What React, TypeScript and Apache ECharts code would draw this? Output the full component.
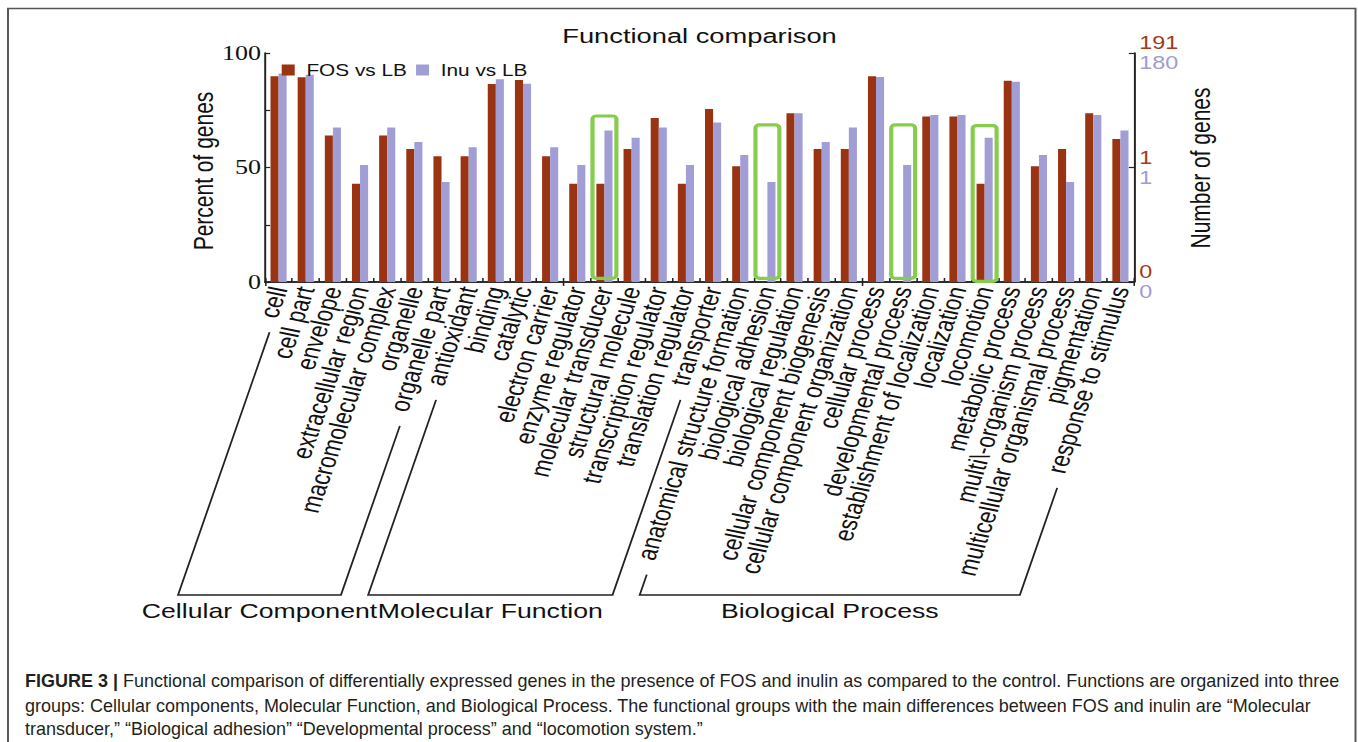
import React, { useEffect, useRef } from 'react';
import * as echarts from 'echarts';

// Horizontal stretch applied to the whole figure panel (chart drawn narrow, then widened)
const S = 1.3;
const FIG_W = 1358;
const FIG_H = 742;
const CHART_W = FIG_W / S;

const FONT = '"Liberation Sans", Arial, Helvetica, sans-serif';
const SERIF = '"Liberation Serif", "Times New Roman", serif';

const BROWN = '#993311';
const LAVENDER = '#a19dd5';
const GREEN = '#86cd4e';

const categories = [
  'cell', 'cell part', 'envelope', 'extracellular region', 'macromolecular complex', 'organelle', 'organelle part',
  'antioxidant', 'binding', 'catalytic', 'electron carrier', 'enzyme regulator', 'molecular transducer',
  'structural molecule', 'transcription regulator', 'translation regulator', 'transporter',
  'anatomical structure formation', 'biological adhesion', 'biological regulation', 'cellular component biogenesis',
  'cellular component organization', 'cellular process', 'developmental process', 'establishment of localization',
  'localization', 'locomotion', 'metabolic process', 'multi\\-organism process', 'multicellular organismal process',
  'pigmentation', 'response to stimulus',
];

const fosPercent = [
  89.8, 89.4, 64.0, 42.9, 64.0, 58.1, 54.9,
  54.9, 86.5, 88.2, 54.9, 42.9, 42.9, 58.1, 71.6, 42.9, 75.5,
  50.5, 0, 73.7, 58.1, 58.1, 89.8, 0, 72.3, 72.3, 42.9, 87.9, 50.5, 58.1, 73.7, 62.4,
];

const inuPercent = [
  91.0, 90.5, 67.5, 51.1, 67.5, 61.1, 43.7,
  58.8, 88.5, 86.6, 58.8, 51.1, 66.2, 63.0, 67.5, 51.1, 69.7,
  55.5, 43.7, 73.7, 61.1, 67.5, 89.5, 51.1, 72.9, 72.9, 63.0, 87.5, 55.5, 43.7, 72.9, 66.2,
];

// Right-hand axis tick labels (gene counts) at 0 / 50 / 100 of the percent scale
const rightTickValues = [0, 50, 100];
const rightTicksFos = ['0', '1', '191'];
const rightTicksInu = ['0', '1', '180'];
const leftTickLabels = [0, 50, 100];

// GO category groups under the axis
const groupNames = ['Cellular Component', 'Molecular Function', 'Biological Process'];
const groupFirst = ['cell', 'antioxidant', 'anatomical structure formation'];
const groupLast = ['organelle part', 'transporter', 'response to stimulus'];

// Highlighted functions (outlined boxes): top and bottom of the outline in percent units
const highlightCats = ['molecular transducer', 'biological adhesion', 'developmental process', 'locomotion'];
const highlightTop = [72.5, 68.6, 68.6, 68.3];
const highlightBottom = [1.6, 1.6, 1.6, 0.3];

const captionLines = [
  '{b|FIGURE 3 |} Functional comparison of differentially expressed genes in the presence of FOS and inulin as compared to the control. Functions are organized into three',
  'groups: Cellular components, Molecular Function, and Biological Process. The functional groups with the main differences between FOS and inulin are \u201cMolecular',
  'transducer,\u201d \u201cBiological adhesion\u201d \u201cDevelopmental process\u201d and \u201clocomotion system.\u201d',
];

const GRID_LEFT = 265 / S;
const GRID_RIGHT = 1134 / S;
const GRID_TOP = 53;
const GRID_BOTTOM = 282;
const LABEL_ROTATE = 75;
const LABEL_SIZE = 21;
const LABEL_MARGIN = 5;
const BRACKET_Y = 595;
const CAPTION_SIZE = 18;
const GROUP_SIZE = 20.5;

function measure(text: string, size: number): number {
  const c = document.createElement('canvas').getContext('2d')!;
  c.font = `${size}px "Liberation Sans", Arial, sans-serif`;
  return c.measureText(text).width;
}

export default function App() {
  const ref = useRef<HTMLDivElement>(null);

  useEffect(() => {
    const el = ref.current!;
    const chart = echarts.init(el, null, { renderer: 'svg' });

    const axisLine = { show: true, lineStyle: { color: '#222', width: 1.5 } };
    const tick = (len: number) => ({ show: true, inside: true, length: len, lineStyle: { color: '#222', width: 1.2 } });

    chart.setOption({
      animation: false,
      backgroundColor: '#ffffff',
      grid: {
        left: GRID_LEFT,
        top: GRID_TOP,
        width: GRID_RIGHT - GRID_LEFT,
        height: GRID_BOTTOM - GRID_TOP,
      },
      legend: {
        data: ['FOS vs LB', 'Inu vs LB'],
        left: 281.7 / S,
        top: 62,
        padding: 0,
        itemWidth: 10,
        itemHeight: 11,
        itemGap: 7,
        icon: 'rect',
        textStyle: { fontSize: 16, fontFamily: FONT, color: '#111', padding: [0, 0, 0, 4] },
      },
      xAxis: [
        {
          type: 'category',
          data: categories,
          position: 'bottom',
          axisLine,
          axisTick: tick(4),
          axisLabel: {
            interval: 0,
            rotate: LABEL_ROTATE,
            fontSize: LABEL_SIZE,
            fontFamily: FONT,
            color: '#111',
            margin: LABEL_MARGIN,
          },
        },
        {
          type: 'category',
          data: categories,
          position: 'top',
          axisLine,
          axisTick: tick(4),
          axisLabel: { show: false },
        },
      ],
      yAxis: [
        {
          type: 'value',
          min: 0,
          max: 100,
          interval: 25,
          position: 'left',
          axisLine,
          axisTick: tick(4),
          splitLine: { show: false },
          axisLabel: {
            margin: 3,
            fontSize: 20,
            fontFamily: SERIF,
            color: '#111',
            formatter: (v: number) => (leftTickLabels.includes(v) ? String(v) : ''),
          },
        },
        {
          type: 'value',
          min: 0,
          max: 100,
          interval: 50,
          position: 'right',
          axisLine,
          axisTick: tick(4),
          splitLine: { show: false },
          axisLabel: {
            margin: 4,
            fontSize: 18,
            fontFamily: FONT,
            formatter: (v: number) => {
              const i = rightTickValues.indexOf(v);
              return i < 0 ? '' : `{a|${rightTicksFos[i]}}\n{b|${rightTicksInu[i]}}`;
            },
            rich: {
              a: { color: '#a33b16', fontSize: 18, fontFamily: FONT, lineHeight: 20 },
              b: { color: '#9f9bd3', fontSize: 18, fontFamily: FONT, lineHeight: 20 },
            },
          },
        },
      ],
      series: [
        {
          name: 'FOS vs LB',
          type: 'bar',
          data: fosPercent,
          barWidth: 6.2,
          barGap: '0%',
          itemStyle: { color: BROWN },
        },
        {
          name: 'Inu vs LB',
          type: 'bar',
          data: inuPercent,
          barWidth: 6.2,
          barGap: '0%',
          itemStyle: { color: LAVENDER },
        },
        {
          name: 'highlight',
          type: 'custom',
          z: 5,
          data: highlightCats.map((c, i) => [c, highlightTop[i], highlightBottom[i]]),
          encode: { x: 0, y: [1, 2] },
          renderItem: (_params: any, api: any) => {
            const idx = api.value(0);
            const top = api.coord([idx, api.value(1)]);
            const bot = api.coord([idx, api.value(2)]);
            const bw = api.size([1, 0])[0] * 0.88;
            return {
              type: 'rect',
              shape: { x: top[0] - bw / 2, y: top[1], width: bw, height: bot[1] - top[1], r: 3 },
              style: { fill: 'none', stroke: GREEN, lineWidth: 3.2 },
            };
          },
        },
      ],
    });

    // Group brackets follow the slant of the rotated category labels
    const ang = (LABEL_ROTATE * Math.PI) / 180;
    const d = [-Math.cos(ang), Math.sin(ang)];
    const n = [Math.sin(ang), Math.cos(ang)];
    const baseY = chart.convertToPixel({ yAxisIndex: 0 }, 0) as number;
    const anchorY = baseY + LABEL_MARGIN;

    const labelFoot = (cat: string) => {
      const cx = chart.convertToPixel({ xAxisIndex: 0 }, cat) as number;
      const t = measure(cat, LABEL_SIZE) + 14;
      const p0 = [cx + d[0] * t + n[0] * 5, anchorY + d[1] * t + n[1] * 5];
      const k = (BRACKET_Y - p0[1]) / d[1];
      const p1 = [p0[0] + d[0] * k, BRACKET_Y];
      return { p0, p1 };
    };

    const graphics: any[] = [];
    const textStyle = (text: string, size: number, extra: any = {}) => ({
      text,
      fontSize: size,
      fontFamily: FONT,
      fill: '#111',
      align: 'center',
      verticalAlign: 'middle',
      ...extra,
    });

    groupNames.forEach((name, i) => {
      const a = labelFoot(groupFirst[i]);
      const b = labelFoot(groupLast[i]);
      graphics.push({
        type: 'polyline',
        shape: { points: [a.p0, a.p1, b.p1, b.p0] },
        style: { stroke: '#222', lineWidth: 1.4, fill: 'none' },
      });
      graphics.push({
        type: 'text',
        x: (a.p1[0] + b.p1[0]) / 2,
        y: 611,
        style: textStyle(name, GROUP_SIZE),
      });
    });

    // Title and axis names
    graphics.push({
      type: 'text',
      x: (GRID_LEFT + GRID_RIGHT) / 2,
      y: 36,
      style: textStyle('Functional comparison', 21),
    });
    graphics.push({
      type: 'text',
      x: 203 / S,
      y: 171,
      rotation: Math.PI / 2,
      style: textStyle('Percent of genes', 21),
    });
    graphics.push({
      type: 'text',
      x: 1200 / S,
      y: 168,
      rotation: Math.PI / 2,
      style: textStyle('Number of genes', 21),
    });

    // Caption (drawn without the horizontal stretch)
    const capY = [681, 706, 729];
    captionLines.forEach((line, i) => {
      graphics.push({
        type: 'text',
        x: 25 / S,
        y: capY[i],
        scaleX: 1 / S,
        style: {
          text: line,
          fontSize: CAPTION_SIZE,
          fontFamily: FONT,
          fill: '#231f20',
          align: 'left',
          verticalAlign: 'middle',
          rich: { b: { fontWeight: 'bold', fontSize: CAPTION_SIZE, fontFamily: FONT, fill: '#231f20' } },
        },
      });
    });

    // Figure frame
    graphics.push({
      type: 'polyline',
      shape: { points: [[8 / S, FIG_H], [8 / S, 8.5], [1355.5 / S, 8.5], [1355.5 / S, FIG_H]] },
      style: { stroke: '#555', lineWidth: 1.5, fill: 'none' },
    });

    chart.setOption({ graphic: graphics });

    return () => chart.dispose();
  }, []);

  return (
    <div
      style={{
        position: 'fixed',
        left: 0,
        top: 0,
        width: FIG_W,
        height: FIG_H,
        overflow: 'hidden',
        background: '#fff',
      }}
    >
      <div
        ref={ref}
        style={{ width: CHART_W, height: FIG_H, transform: `scaleX(${S})`, transformOrigin: '0 0' }}
      />
    </div>
  );
}
